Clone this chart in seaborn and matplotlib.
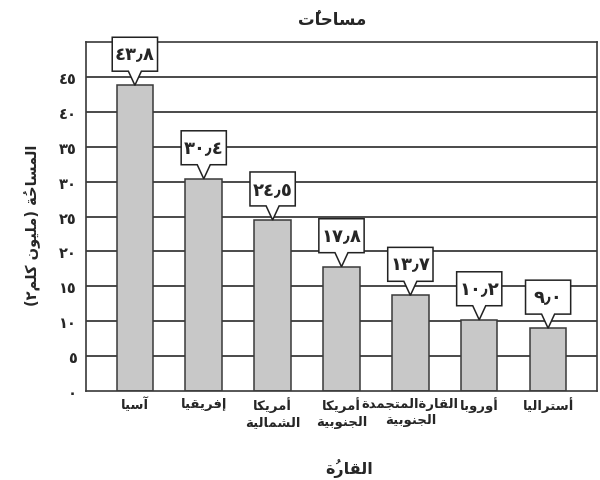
import matplotlib
matplotlib.use("Agg")
import matplotlib.pyplot as plt
from matplotlib.path import Path
import seaborn as sns
import pandas as pd

# ---------------- data ----------------
continents = ["آسيا", "إفريقيا", "أمريكا\nالشمالية", "أمريكا\nالجنوبية",
              "القارةالمتجمدة\nالجنوبية", "أوروبا", "أستراليا"]
areas = [43.8, 30.4, 24.5, 17.8, 13.7, 10.2, 9.0]
y_ticks = [0, 5, 10, 15, 20, 25, 30, 35, 40, 45]
title_text = "مساحاتٌ"
ylabel_text = "المساحةُ (مليون كلم٢)"
xlabel_text = "القارةُ"

# ------------- minimal Arabic shaping (matplotlib has no complex text layout) -------------
_DUAL = {'ئ': 0xFE89, 'ب': 0xFE8F, 'ت': 0xFE95, 'ث': 0xFE99, 'ج': 0xFE9D, 'ح': 0xFEA1,
         'خ': 0xFEA5, 'س': 0xFEB1, 'ش': 0xFEB5, 'ص': 0xFEB9, 'ض': 0xFEBD, 'ط': 0xFEC1,
         'ظ': 0xFEC5, 'ع': 0xFEC9, 'غ': 0xFECD, 'ف': 0xFED1, 'ق': 0xFED5, 'ك': 0xFED9,
         'ل': 0xFEDD, 'م': 0xFEE1, 'ن': 0xFEE5, 'ه': 0xFEE9, 'ي': 0xFEF1}
_RIGHT = {'آ': 0xFE81, 'أ': 0xFE83, 'ؤ': 0xFE85, 'إ': 0xFE87, 'ا': 0xFE8D, 'ة': 0xFE93,
          'د': 0xFEA9, 'ذ': 0xFEAB, 'ر': 0xFEAD, 'ز': 0xFEAF, 'و': 0xFEED, 'ى': 0xFEEF}
_LAMALEF = {'آ': 0xFEF5, 'أ': 0xFEF7, 'إ': 0xFEF9, 'ا': 0xFEFB}
_MARKS = set('\u064B\u064C\u064D\u064E\u064F\u0650\u0651\u0652')
_DIGITS = set('٠١٢٣٤٥٦٧٨٩٫0123456789.')


def _shape(s):
    clusters = []
    for ch in s:
        if ch in _MARKS and clusters:
            clusters[-1][1].append(ch)
        else:
            clusters.append([ch, []])
    res = []
    n = len(clusters)
    i = 0
    while i < n:
        base, marks = clusters[i]
        prev = clusters[i - 1][0] if i > 0 else None
        cp = prev is not None and prev in _DUAL
        if base == 'ل' and i + 1 < n and clusters[i + 1][0] in _LAMALEF:
            code = _LAMALEF[clusters[i + 1][0]] + (1 if cp else 0)
            res.append(chr(code) + ''.join(marks + clusters[i + 1][1]))
            i += 2
            continue
        nxt = clusters[i + 1][0] if i + 1 < n else None
        cn = base in _DUAL and nxt is not None and (nxt in _DUAL or nxt in _RIGHT)
        if base in _DUAL:
            off = 3 if (cp and cn) else 1 if cp else 2 if cn else 0
            g = chr(_DUAL[base] + off)
        elif base in _RIGHT:
            g = chr(_RIGHT[base] + (1 if cp else 0))
        else:
            g = base
        res.append(g + ''.join(marks))
        i += 1
    return res


def ar(text):
    lines = []
    for line in text.split("\n"):
        cl = _shape(line)[::-1]
        out, run = [], []
        for c in cl:
            if c and c[0] in _DIGITS:
                run.append(c)
            else:
                if run:
                    out.extend(run[::-1])
                    run = []
                out.append(c)
        if run:
            out.extend(run[::-1])
        s = ''.join(out)
        s = s.translate(str.maketrans({'(': ')', ')': '('}))
        lines.append(s)
    return "\n".join(lines)


_AD = str.maketrans("0123456789.", "٠١٢٣٤٥٦٧٨٩٫")


def arnum(v, fmt="{:.1f}"):
    return fmt.format(v).translate(_AD)


# callout box (rectangle with a downward pointer), sized relative to font size in pixels
def callout_box(x0, y0, width, height, mutation_size):
    m = mutation_size
    cx, cy = x0 + width / 2.0, y0 + height / 2.0
    hw = max(1.25 * m, width / 2.0 + 0.15 * m)
    hh = 0.94 * m
    ph, pb = 0.78 * m, 0.36 * m
    L, R, T, B = cx - hw, cx + hw, cy + hh, cy - hh
    verts = [(L, T), (R, T), (R, B), (cx + pb, B), (cx, B - ph), (cx - pb, B), (L, B), (L, T)]
    codes = [Path.MOVETO] + [Path.LINETO] * 6 + [Path.CLOSEPOLY]
    return Path(verts, codes)


# ---------------- plot ----------------
sns.set_theme(style="white")
plt.rcParams['font.family'] = ['DejaVu Sans']
plt.rcParams['font.weight'] = 'bold'

df = pd.DataFrame({"continent": [ar(c) for c in continents], "area": areas})

fig = plt.figure(figsize=(6.0, 4.81), dpi=100)
ax = fig.add_axes([0.1433, 0.185, 0.8517, 0.7256])

for t in y_ticks[1:]:
    ax.axhline(t, color="#3c3c3c", lw=1.3, zorder=0)

sns.barplot(data=df, x="continent", y="area", color="#c8c8c8", saturation=1,
            width=0.53, edgecolor="#3a3a3a", linewidth=1.1, ax=ax, zorder=2)

ax.set_ylim(0, 50)
ax.set_xlim(-0.71, len(areas) - 1 + 0.71)
ax.set_yticks(y_ticks)
ax.set_yticklabels([arnum(t, "{:d}") for t in y_ticks], fontsize=10.5, fontweight='bold')
ax.tick_params(axis='y', length=0, pad=6.5)
ax.tick_params(axis='x', length=0, pad=4, labelsize=9.5)
for lab in ax.get_xticklabels():
    lab.set_fontweight('bold')
    lab.set_linespacing(1.3)
for sp in ax.spines.values():
    sp.set_visible(True)
    sp.set_color("#3a3a3a")
    sp.set_linewidth(1.2)

ax.set_xlabel("")
ax.set_ylabel(ar(ylabel_text), fontsize=10.5, fontweight='bold')
ax.yaxis.set_label_coords(-0.088, 0.478)

fs = 13
m_px = fs * fig.dpi / 72.0
off_pt = (0.94 + 0.78) * m_px * 72.0 / fig.dpi
for i, v in enumerate(areas):
    ax.annotate(arnum(v), xy=(i, v), xytext=(0, off_pt), textcoords="offset points",
                ha="center", va="center", fontsize=fs, fontweight='bold', zorder=5,
                bbox=dict(boxstyle=callout_box, fc="white", ec="#222222", lw=1.1))

fig.text(0.553, 0.958, ar(title_text), ha="center", va="center", fontsize=12, fontweight='bold')
fig.text(0.582, 0.025, ar(xlabel_text), ha="center", va="center", fontsize=11.5, fontweight='bold')

fig.savefig("out.png", dpi=100)
